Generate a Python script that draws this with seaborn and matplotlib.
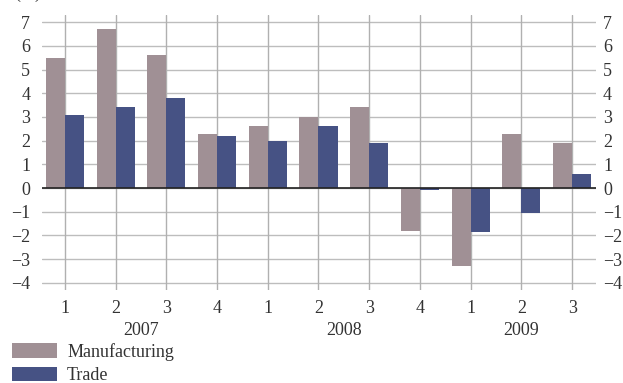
import matplotlib
matplotlib.use("Agg")
import matplotlib.pyplot as plt
import matplotlib.transforms as mtransforms
import seaborn as sns
import pandas as pd

# Quarterly growth, per cent
years = ["2007", "2007", "2007", "2007", "2008", "2008", "2008", "2008", "2009", "2009", "2009"]
quarters = ["1", "2", "3", "4", "1", "2", "3", "4", "1", "2", "3"]
manufacturing = [5.5, 6.7, 5.6, 2.3, 2.6, 3.0, 3.4, -1.8, -3.3, 2.3, 1.9]
trade = [3.1, 3.4, 3.8, 2.2, 2.0, 2.6, 1.9, -0.1, -1.85, -1.05, 0.6]
year_labels = ["2007", "2008", "2009"]
year_centres = [1.5, 5.5, 9.0]
y_ticks = list(range(-4, 8))
y_tick_labels = [str(v).replace("-", "\u2212") for v in y_ticks]

periods = [f"{y} Q{q}" for y, q in zip(years, quarters)]
df = pd.DataFrame({
    "period": periods * 2,
    "value": manufacturing + trade,
    "series": ["Manufacturing"] * len(periods) + ["Trade"] * len(periods),
})

sns.set_style("white")
plt.rcParams["font.family"] = ["Liberation Serif", "DejaVu Serif"]

fig = plt.figure(figsize=(6.23, 3.83), dpi=100)
ax = fig.add_axes([0.0674, 0.2428, 0.8893, 0.718])

palette = {"Manufacturing": "#a09095", "Trade": "#465284"}
sns.barplot(data=df, x="period", y="value", hue="series", order=periods,
            palette=palette, width=0.75, gap=0, saturation=1, linewidth=0,
            ax=ax, zorder=3, errorbar=None)

ax.set_xlim(-0.45, 10.47)
ax.set_ylim(-4.3, 7.3)
ax.set_yticks(y_ticks)
ax.set_yticklabels(y_tick_labels)
ax.set_xticks(range(len(periods)))
ax.set_xticklabels(quarters)
ax.set_xlabel("")
ax.set_ylabel("")

# same scale repeated on the right-hand side
ax_r = ax.twinx()
ax_r.set_ylim(ax.get_ylim())
ax_r.set_yticks(y_ticks)
ax_r.set_yticklabels(y_tick_labels)

for a in (ax, ax_r):
    for s in a.spines.values():
        s.set_visible(False)

# horizontal grid across the plot, vertical grid at each quarter
for v in y_ticks:
    ax.axhline(v, color="#bdbdbd", lw=1.0, zorder=1)
for i in range(len(periods)):
    ax.axvline(i, color="#b0b0b0", lw=1.0, zorder=1)
ax.axhline(0, color="#222222", lw=1.2, zorder=4)

ax.tick_params(axis="y", length=0, labelsize=13, pad=8.5, colors="#333333")
ax_r.tick_params(axis="y", length=0, labelsize=13, pad=5, colors="#333333")
ax.tick_params(axis="x", length=0, labelsize=13, pad=7, colors="#333333")

trans = mtransforms.blended_transform_factory(ax.transData, ax.transAxes)
for lab, xc in zip(year_labels, year_centres):
    ax.text(xc, -0.118, lab, transform=trans, ha="center", va="top",
            fontsize=13, color="#333333")

# unit label sitting at the very top edge
fig.text(28 / 623, 1.0 + 7 / 383, "(%)", ha="center", va="center",
         fontsize=13, color="#333333")

sns.move_legend(ax, "upper left", bbox_to_anchor=(12 / 623, 1 - 343 / 383),
                bbox_transform=fig.transFigure, frameon=False, title=None,
                fontsize=13, handlelength=2.5, handleheight=0.85,
                labelspacing=0.33, handletextpad=0.55, borderaxespad=0,
                borderpad=0)
for t in ax.get_legend().get_texts():
    t.set_color("#333333")

fig.savefig("out.png", dpi=100)
